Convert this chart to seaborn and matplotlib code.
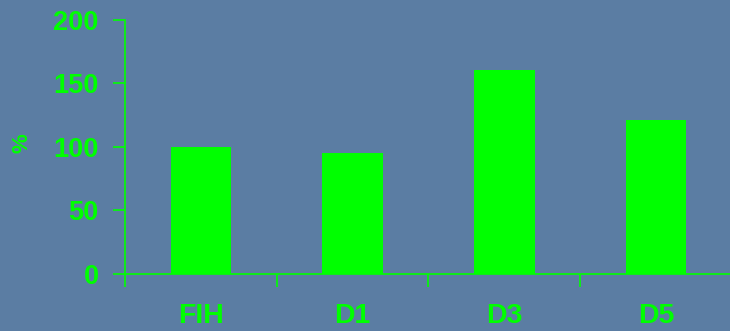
import matplotlib
matplotlib.use("Agg")
import matplotlib.pyplot as plt
import seaborn as sns
import pandas as pd

categories = ["FIH", "D1", "D3", "D5"]
values = [100, 95, 160, 121]
y_ticks = [0, 50, 100, 150, 200]

GREEN = "#00ff00"
BG = "#5b7da3"

sns.set_style("white")
plt.rcParams["font.family"] = ["Liberation Sans", "DejaVu Sans"]
plt.rcParams["font.weight"] = "bold"

df = pd.DataFrame({"cat": categories, "val": values})

fig = plt.figure(figsize=(7.30, 3.31), dpi=100)
fig.patch.set_facecolor(BG)
W, H = 730, 331
ax = fig.add_axes([125 / W, (H - 274) / H, 607 / W, 254.5 / H])
ax.set_facecolor("none")

sns.barplot(data=df, x="cat", y="val", color=GREEN, saturation=1,
            width=0.4, edgecolor="none", ax=ax)

ax.set_ylim(0, 200)
ax.set_xlim(-0.5, 3.5)
ax.set_yticks(y_ticks)
ax.set_yticklabels([str(v) for v in y_ticks])

# category boundary ticks on the x axis
ax.set_xticks([-0.5, 0.5, 1.5, 2.5], minor=True)
ax.set_xticks(range(len(categories)))
ax.set_xticklabels(categories)
ax.tick_params(axis="x", which="major", bottom=True, length=0, pad=21,
               labelsize=20.5, labelcolor=GREEN)
ax.tick_params(axis="x", which="minor", bottom=True, length=9, width=1.2,
               color=GREEN, direction="out")
ax.tick_params(axis="y", left=True, length=9, width=1.2, color=GREEN,
               direction="out", pad=10, labelsize=19.5, labelcolor=GREEN)
for lbl in ax.get_xticklabels() + ax.get_yticklabels():
    lbl.set_fontweight("bold")

for side in ["top", "right"]:
    ax.spines[side].set_visible(False)
for side in ["left", "bottom"]:
    ax.spines[side].set_color(GREEN)
    ax.spines[side].set_linewidth(1.2)

ax.set_xlabel("")
ax.set_ylabel("")
fig.text(22 / W, 1 - 143 / H, "%", rotation=90, color=GREEN, fontsize=16,
         fontweight="bold", ha="center", va="center")

fig.savefig("out.png", dpi=100, facecolor=BG)
